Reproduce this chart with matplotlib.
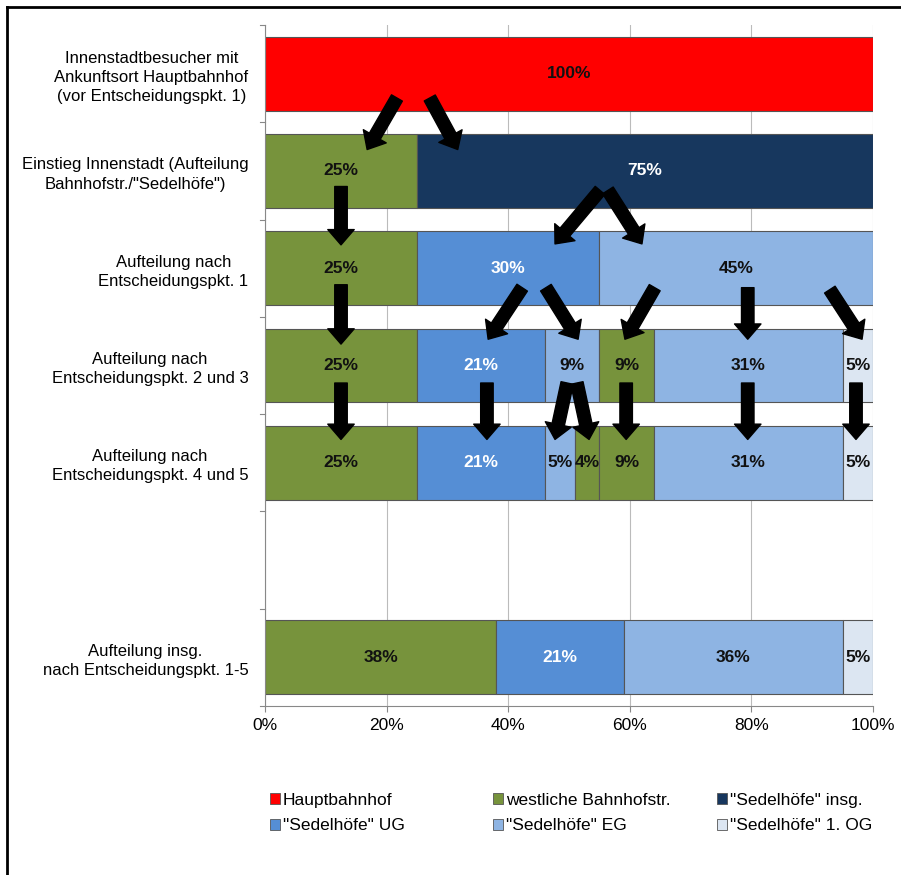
import matplotlib
matplotlib.use("Agg")
import matplotlib.pyplot as plt
from matplotlib.patches import Patch
from matplotlib.lines import Line2D

rows = [
    "Innenstadtbesucher mit\nAnkunftsort Hauptbahnhof\n(vor Entscheidungspkt. 1)",
    "Einstieg Innenstadt (Aufteilung\nBahnhofstr./\"Sedelhöfe\")",
    "Aufteilung nach\nEntscheidungspkt. 1",
    "Aufteilung nach\nEntscheidungspkt. 2 und 3",
    "Aufteilung nach\nEntscheidungspkt. 4 und 5",
    "",
    "Aufteilung insg.\nnach Entscheidungspkt. 1-5",
]

categories = ["Hauptbahnhof", "westliche Bahnhofstr.", "\"Sedelhöfe\" insg.",
              "\"Sedelhöfe\" UG", "\"Sedelhöfe\" EG", "\"Sedelhöfe\" 1. OG"]
colors = {"Hauptbahnhof": "#FF0000", "westliche Bahnhofstr.": "#77933C",
          "\"Sedelhöfe\" insg.": "#17375E", "\"Sedelhöfe\" UG": "#558ED5",
          "\"Sedelhöfe\" EG": "#8EB4E3", "\"Sedelhöfe\" 1. OG": "#DCE6F2"}
white_text = {"\"Sedelhöfe\" insg.", "\"Sedelhöfe\" UG"}

# segments per row: (category, value in %)
segments = [
    [("Hauptbahnhof", 100)],
    [("westliche Bahnhofstr.", 25), ("\"Sedelhöfe\" insg.", 75)],
    [("westliche Bahnhofstr.", 25), ("\"Sedelhöfe\" UG", 30), ("\"Sedelhöfe\" EG", 45)],
    [("westliche Bahnhofstr.", 25), ("\"Sedelhöfe\" UG", 21), ("\"Sedelhöfe\" EG", 9),
     ("westliche Bahnhofstr.", 9), ("\"Sedelhöfe\" EG", 31), ("\"Sedelhöfe\" 1. OG", 5)],
    [("westliche Bahnhofstr.", 25), ("\"Sedelhöfe\" UG", 21), ("\"Sedelhöfe\" EG", 5),
     ("westliche Bahnhofstr.", 4), ("westliche Bahnhofstr.", 9), ("\"Sedelhöfe\" EG", 31),
     ("\"Sedelhöfe\" 1. OG", 5)],
    [],
    [("westliche Bahnhofstr.", 38), ("\"Sedelhöfe\" UG", 21), ("\"Sedelhöfe\" EG", 36),
     ("\"Sedelhöfe\" 1. OG", 5)],
]

# flow arrows: (x_from %, row_from, x_to %, row_to)
arrows = [
    (21.7, 0.25, 16.8, 0.78), (27.1, 0.25, 31.7, 0.78),
    (12.5, 1.16, 12.5, 1.76), (55.1, 1.2, 47.7, 1.75), (56.4, 1.2, 62.0, 1.75),
    (12.5, 2.17, 12.5, 2.78), (42.3, 2.2, 36.7, 2.73), (46.2, 2.2, 51.5, 2.73),
    (64.1, 2.2, 59.2, 2.73), (79.4, 2.2, 79.4, 2.73), (92.9, 2.22, 98.2, 2.73),
    (12.5, 3.18, 12.5, 3.76), (36.5, 3.18, 36.5, 3.76), (49.7, 3.18, 47.7, 3.76),
    (51.3, 3.18, 53.3, 3.76), (59.4, 3.18, 59.4, 3.76), (79.4, 3.18, 79.4, 3.76),
    (97.2, 3.18, 97.2, 3.76),
]

plt.rcParams["font.family"] = ["Liberation Sans", "DejaVu Sans"]
fig = plt.figure(figsize=(9.01, 8.75), dpi=100)
ax = fig.add_axes([265 / 901, 1 - 706 / 875, 608 / 901, 681 / 875])

for i, segs in enumerate(segments):
    left = 0
    for cat, val in segs:
        ax.barh(i, val, left=left, height=0.76, color=colors[cat],
                edgecolor="#555555", linewidth=0.8, zorder=2)
        tc = "white" if cat in white_text else "#111111"
        ax.text(left + val / 2, i, f"{val}%", ha="center", va="center",
                fontsize=12.5, fontweight="bold", color=tc, zorder=4)
        left += val

for x0, y0, x1, y1 in arrows:
    ax.annotate("", xy=(x1, y1), xytext=(x0, y0),
                arrowprops=dict(arrowstyle="simple,head_length=0.55,head_width=0.95,tail_width=0.45",
                                mutation_scale=20, color="black", shrinkA=0, shrinkB=0),
                zorder=5)

ax.set_xlim(0, 100)
ax.set_ylim(len(rows) - 0.5, -0.5)
ax.set_yticks(range(len(rows)))
ax.set_yticklabels(rows, fontsize=12, ha="right", multialignment="center", linespacing=1.35)
ax.tick_params(axis="y", pad=12, length=0)
for yb in [i - 0.5 for i in range(len(rows) + 1)]:
    ax.plot([-0.9, 0], [yb, yb], color="#888888", lw=0.8, clip_on=False)
ax.set_xticks([0, 20, 40, 60, 80, 100])
ax.set_xticklabels([f"{t}%" for t in [0, 20, 40, 60, 80, 100]], fontsize=12.5)
ax.tick_params(axis="x", length=4, color="#888888", pad=5)
ax.grid(axis="x", color="#BBBBBB", lw=0.8, zorder=0)
for s in ["top", "right"]:
    ax.spines[s].set_visible(False)
ax.spines["left"].set_color("#888888")
ax.spines["bottom"].set_color("#888888")

# legend: three columns, two entries each
handles = [Patch(facecolor=colors[c], edgecolor="#555555", linewidth=0.6) for c in categories]
col_x = [270, 493, 717]
for k, x in enumerate(col_x):
    fig.legend([handles[k], handles[k + 3]], [categories[k], categories[k + 3]],
               loc="upper left", bbox_to_anchor=(x / 901, 1 - 793 / 875),
               frameon=False, fontsize=12.5, handlelength=0.6, handleheight=0.6,
               handletextpad=0.15, labelspacing=0.6, borderpad=0, borderaxespad=0)

# frame of the picture (top and left edges visible)
fig.add_artist(Line2D([7 / 901, 7 / 901], [0, 1 - 7 / 875], color="black", lw=2, transform=fig.transFigure))
fig.add_artist(Line2D([7 / 901, 1], [1 - 7 / 875, 1 - 7 / 875], color="black", lw=2, transform=fig.transFigure))

fig.savefig("out.png", dpi=100)
